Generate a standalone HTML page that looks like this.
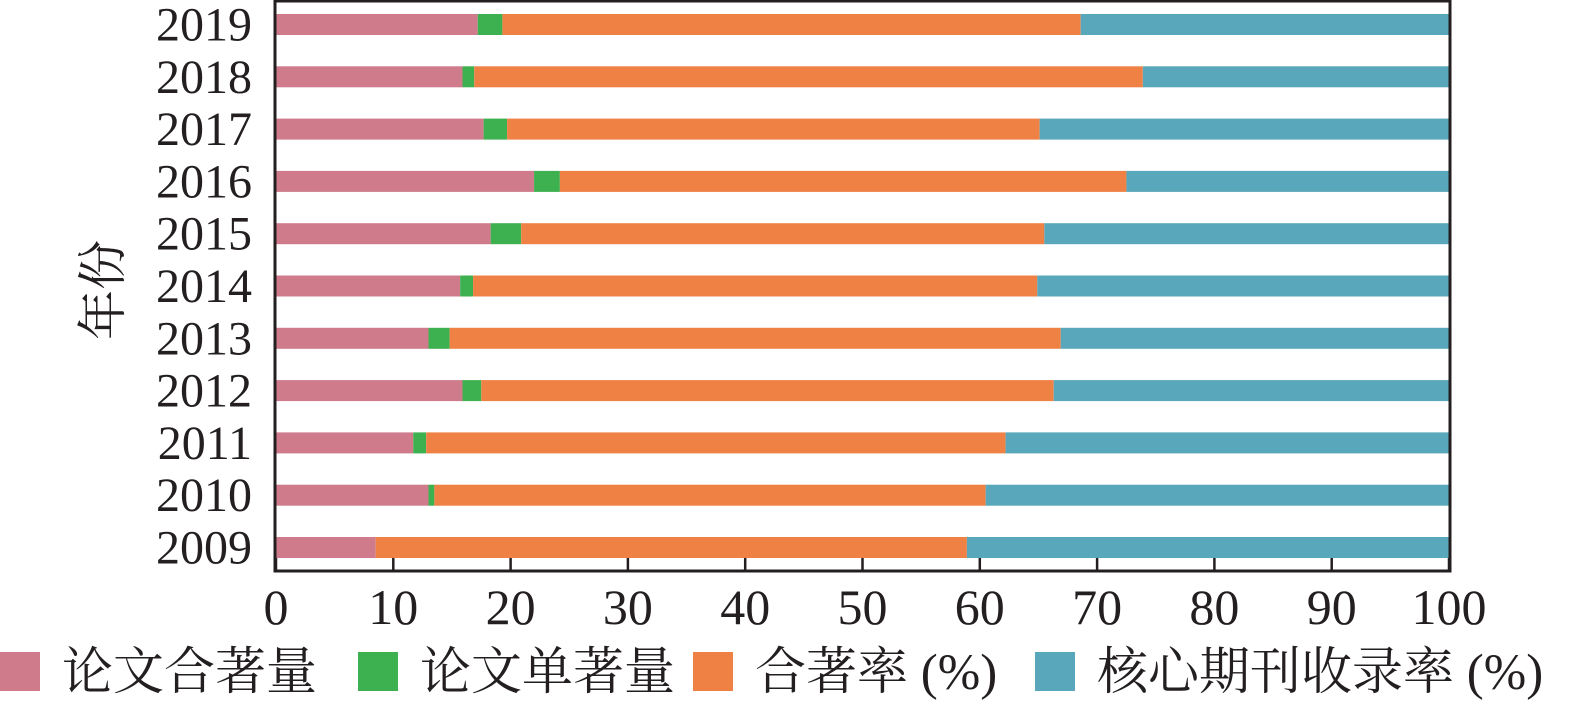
<!DOCTYPE html>
<html><head><meta charset="utf-8"><style>
body{margin:0;background:#fff;}
text{font-family:"Liberation Serif","Noto Serif CJK SC",serif;fill:#231f20;}
</style></head><body>
<svg id="c" width="1575" height="707" xmlns="http://www.w3.org/2000/svg"></svg>
<script>
const years=["2009","2010","2011","2012","2013","2014","2015","2016","2017","2018","2019"];
const coauthored=[8.5,13.0,11.7,15.9,13.0,15.7,18.3,22.0,17.7,15.9,17.2];
const single=[0,0.5,1.1,1.6,1.8,1.1,2.6,2.2,2.0,1.0,2.1];
const coauthorRate=[50.4,47.0,49.4,48.8,52.1,48.1,44.6,48.3,45.4,57.0,49.3];
const xTicks=[0,10,20,30,40,50,60,70,80,90,100];
const colors=["#cf7b8c","#3db14f","#ef8145","#58a7ba"];
const ns="http://www.w3.org/2000/svg";
const svg=document.getElementById('c');
const X0=276,X1=1449,Ytop=1,Ybot=571;
const xs=v=>X0+(X1-X0)*v/100;
const yc=i=>547.5-i*52.3;
function mk(tag,attrs,parent){const e=document.createElementNS(ns,tag);for(const k in attrs)e.setAttribute(k,attrs[k]);(parent||svg).appendChild(e);return e;}
years.forEach((y,i)=>{
  const core=100-coauthored[i]-single[i]-coauthorRate[i];
  const segs=[coauthored[i],single[i],coauthorRate[i],core];
  const names=['coauthored','single','coauthor-rate','core-rate'];
  let acc=0;
  segs.forEach((v,k)=>{
    const r=mk('rect',{x:xs(acc),y:yc(i)-10.5,width:Math.max(0,xs(acc+v)-xs(acc)),height:21,fill:colors[k]});
    
    
    acc+=v;
  });
  const t=mk('text',{x:252,y:yc(i)+16,'font-size':48,'text-anchor':'end'});
  t.textContent=y;
  
  
});
const frame=mk('rect',{x:X0-1,y:Ytop,width:X1-X0+2,height:Ybot-Ytop,fill:'none',stroke:'#231f20','stroke-width':3});


xTicks.forEach(v=>{
  const l=mk('line',{x1:xs(v),x2:xs(v),y1:Ybot,y2:Ybot-13,stroke:'#231f20','stroke-width':2.5});
  
  
  const t=mk('text',{x:xs(v),y:624,'font-size':50,'text-anchor':'middle'});
  t.textContent=v;
  
  
});
const yt=mk('text',{x:0,y:0,'font-size':50,'text-anchor':'middle',transform:'translate(120,290) rotate(-90)'});
yt.textContent='年份';


const legend=[["论文合著量",0],["论文单著量",358],["合著率 (%)",693],["核心期刊收录率 (%)",1035]];
legend.forEach((L,k)=>{
  const r=mk('rect',{x:L[1],y:652,width:40,height:39,fill:colors[k]});
  
  
  const t=mk('text',{x:L[1]+62,y:689,'font-size':51});
  t.textContent=L[0];
  
  
});
</script>
</body></html>
